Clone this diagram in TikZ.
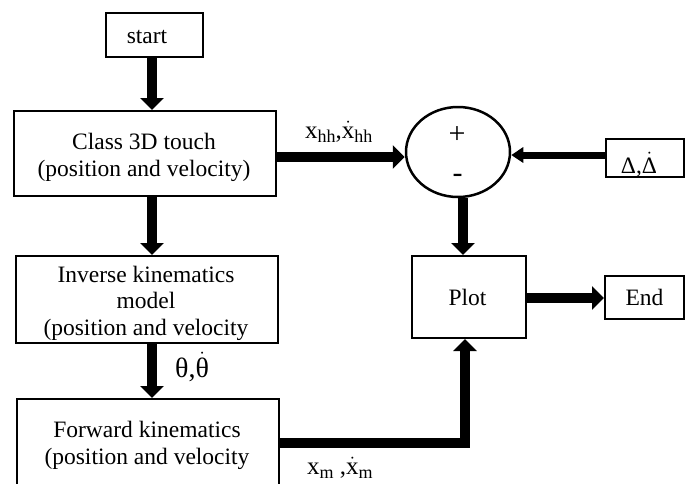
\documentclass[tikz,border=0pt]{standalone}
\usepackage{fontspec}
\setmainfont{Liberation Serif}
\usetikzlibrary{arrows.meta,shapes.geometric}
\newcommand\mysub[1]{\raisebox{-4pt}{\fontsize{18}{18}\selectfont #1}}
\tikzset{
  box/.style={draw, line width=2pt, inner sep=0pt},
  txt/.style={font=\fontsize{23.5}{26.5}\selectfont, align=center, inner sep=0pt, anchor=base},
  lbl/.style={font=\fontsize{25}{26.5}\selectfont, inner sep=0pt, anchor=base west},
  arr/.style={line width=10pt, line join=miter, -{Triangle[width=23pt,length=12pt]}},
  thinarr/.style={line width=7pt, -{Triangle[width=15pt,length=12pt]}},
}
\begin{document}
\begin{tikzpicture}[x=1pt,y=-1pt]
\clip (0,0) rectangle (693,483);
\fill[white] (0,0) rectangle (693,483);
% boxes
\node[box, minimum width=97, minimum height=44] (start) at (154.5,35) {};
\node[box, minimum width=262, minimum height=85] (classbox) at (145,153.5) {};
\node[box, minimum width=262, minimum height=87] (invbox) at (147,299.5) {};
\node[box, minimum width=262, minimum height=110] (fwdbox) at (148,454) {};
\node[box, minimum width=114, minimum height=82] (plotbox) at (469,297) {};
\node[box, minimum width=79, minimum height=43] (endbox) at (644.5,297.5) {};
\node[box, minimum width=78, minimum height=38] (dbox) at (645,158) {};
\node[draw, line width=2.5pt, ellipse, inner sep=0pt, minimum width=104, minimum height=90] (sum) at (458,152) {};
% texts (base anchor = baseline of the last line)
\node[txt] (tstart) at (147,43) {start};
\node[txt] (tclass) at (144,176) {Class 3D touch\\(position and velocity)};
\node[txt] (tinv) at (146,335) {Inverse kinematics\\model\\(position and velocity};
\node[txt] (tfwd) at (147,464) {Forward kinematics\\(position and velocity};
\node[txt] (tplot) at (467.5,305.5) {Plot};
\node[txt] (tend) at (644.5,305) {End};
\node[txt] (tdelta) at (639,173) {Δ,$\dot{\hbox{Δ}}$};
\node[font=\fontsize{30}{30}\selectfont, inner sep=0pt] (plus) at (457,135) {+};
\node[font=\fontsize{30}{30}\selectfont, inner sep=0pt] (minus) at (457.5,178) {-};
% labels
\node[lbl] (lxhh) at (305,138) {x\mysub{hh},$\dot{\hbox{x}}$\mysub{hh}};
\node[lbl, font=\fontsize{28}{28}\selectfont] (ltheta) at (175,377) {θ,$\dot{\hbox{θ}}$};
\node[lbl] (lxm) at (307,474) {x\mysub{m} ,$\dot{\hbox{x}}$\mysub{m}};
% helper coordinates
\coordinate (ax) at (152,0);
\coordinate (cy) at (0,157);
\coordinate (dy) at (0,155);
\coordinate (sx) at (463,0);
\coordinate (ey) at (0,298);
\coordinate (fy) at (0,443);
\coordinate (px) at (465,0);
% connectors
\draw[arr] (start.south -| ax) -- (classbox.north -| ax);
\draw[arr] (classbox.south -| ax) -- (invbox.north -| ax);
\draw[arr] (invbox.south -| ax) -- (fwdbox.north -| ax);
\draw[arr] (classbox.east |- cy) -- (sum.west |- cy);
\draw[thinarr] (dbox.west |- dy) -- (sum.east |- dy);
\draw[arr] (sum.south -| sx) -- (plotbox.north -| sx);
\draw[arr] (plotbox.east |- ey) -- (endbox.west |- ey);
\draw[arr] (fwdbox.east |- fy) -| (plotbox.south -| px);
\end{tikzpicture}
\end{document}
